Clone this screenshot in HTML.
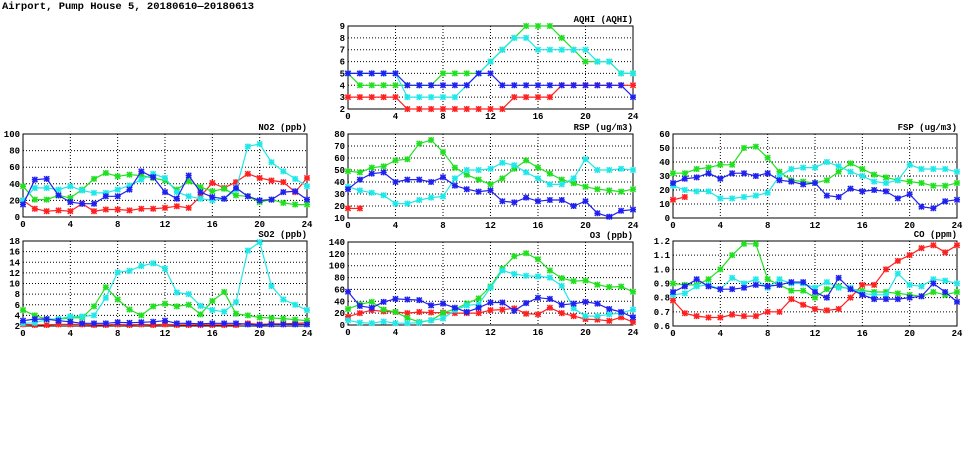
<!DOCTYPE html>
<html><head><meta charset="utf-8"><style>
body{margin:0;background:#fff;width:975px;height:447px;overflow:hidden}
svg text{font-family:"Liberation Mono",monospace;font-weight:bold;font-size:9px;fill:#000}
</style></head><body>
<svg id="c" width="975" height="447">
<text x="2" y="9" style="font-size:10.5px">Airport, Pump House 5, 20180610—20180613</text>
</svg>
<script>
const hours=[0,1,2,3,4,5,6,7,8,9,10,11,12,13,14,15,16,17,18,19,20,21,22,23,24];
const xTicks=[0,4,8,12,16,20,24];
const colors=["#ff2020","#20e020","#20e8e8","#2020f0"];
const aqhiRed=[3,3,3,3,3,2,2,2,2,2,2,2,2,2,3,3,3,3,4,4,4,4,4,4,4];
const aqhiGreen=[5,4,4,4,4,4,4,4,5,5,5,5,6,7,8,9,9,9,8,7,6,6,6,5,5];
const aqhiCyan=[5,5,5,5,5,3,3,3,3,3,4,5,6,7,8,8,7,7,7,7,7,6,6,5,5];
const aqhiBlue=[5,5,5,5,5,4,4,4,4,4,4,5,5,4,4,4,4,4,4,4,4,4,4,4,3];
const no2Red=[20,10,7,8,7,16,7,9,9,8,10,10,11,13,11,25,41,35,42,52,47,44,42,30,47];
const no2Green=[37,21,21,26,23,33,46,53,49,51,50,47,44,33,43,36,31,34,26,25,18,21,17,15,15];
const no2Cyan=[20,35,35,33,37,32,29,29,33,38,45,52,47,30,25,22,20,22,33,85,88,66,55,46,37];
const no2Blue=[15,45,46,26,18,16,16,25,25,33,55,48,30,22,50,30,24,22,35,25,20,21,30,31,21];
const rspRed=[18,18];
const rspGreen=[49,48,52,53,58,59,72,75,65,52,46,42,38,43,51,58,52,47,42,39,36,34,33,32,34];
const rspCyan=[36,33,31,29,22,22,25,27,28,43,50,50,51,56,54,48,43,38,38,43,59,50,50,51,50];
const rspBlue=[34,42,47,48,40,42,42,40,44,37,34,32,33,24,23,27,24,25,25,20,24,14,11,16,17];
const fspRed=[13,15];
const fspGreen=[32,32,35,36,38,38,50,51,43,33,27,26,25,27,33,39,35,31,29,27,26,25,23,23,25];
const fspCyan=[23,20,19,19,14,14,15,16,18,30,35,36,36,40,37,33,30,26,25,27,38,35,35,35,33];
const fspBlue=[25,28,29,32,28,32,32,30,32,27,26,24,25,16,15,21,19,20,19,14,17,8,7,12,13];
const so2Red=[2.3,2.2,2.2,2.3,2.3,2.3,2.2,2.2,2.3,2.2,2.3,2.2,2.3,2.2,2.2,2.2,2.2,2.2,2.2,2.5,2.3,2.4,2.4,2.5,2.6];
const so2Green=[5,4,3.3,3.3,3.5,3.6,5.7,9.3,7,5.1,4,5.7,6.2,5.7,6,4.2,6.7,8.4,4.3,4,3.6,3.5,3.4,3.2,3];
const so2Cyan=[2.5,2.6,3.2,3.3,3.8,3.8,4,7.3,12.1,12.4,13.3,13.8,12.8,8.3,8,5.8,5,4.7,6.5,16.2,17.8,9.5,7,6,5];
const so2Blue=[3,3.3,3.3,3,2.8,2.5,2.5,2.5,2.7,2.6,2.7,2.8,3,2.5,2.5,2.4,2.5,2.5,2.5,2.3,2.2,2.3,2.3,2.3,2.3];
const o3Red=[14,20,25,23,22,20,22,21,21,20,20,20,25,26,28,19,18,29,20,15,10,9,7,13,5];
const o3Green=[27,35,39,26,22,12,5,8,20,27,36,45,65,95,116,121,111,92,79,74,75,68,64,65,56];
const o3Cyan=[8,4,3,6,3,3,4,8,11,25,33,35,63,92,86,83,82,80,66,28,15,15,18,20,26];
const o3Blue=[56,32,29,39,44,43,42,33,36,29,22,29,38,38,24,37,46,44,34,36,39,36,27,22,13];
const coRed=[.78,.69,.67,.66,.66,.68,.67,.67,.7,.7,.79,.75,.72,.71,.72,.8,.89,.89,1.0,1.06,1.1,1.15,1.17,1.12,1.17];
const coGreen=[.9,.89,.89,.93,1.0,1.1,1.18,1.18,.93,.89,.85,.85,.8,.86,.88,.86,.85,.84,.84,.83,.82,.81,.84,.82,.84];
const coCyan=[.82,.83,.88,.89,.86,.94,.9,.93,.87,.93,.9,.9,.87,.91,.87,.87,.83,.82,.82,.97,.89,.88,.93,.92,.9];
const coBlue=[.84,.88,.93,.88,.86,.86,.87,.89,.88,.89,.91,.91,.84,.8,.94,.86,.82,.79,.79,.79,.8,.81,.9,.84,.77];
const aqhiTicks=[2,3,4,5,6,7,8,9];
const no2Ticks=[0,20,40,60,80,100];
const rspTicks=[10,20,30,40,50,60,70,80];
const fspTicks=[0,10,20,30,40,50,60];
const so2Ticks=[2,4,6,8,10,12,14,16,18];
const o3Ticks=[0,20,40,60,80,100,120,140];
const coTicks=["0.6","0.7","0.8","0.9","1.0","1.1","1.2"];

const NS="http://www.w3.org/2000/svg";
const svg=document.getElementById("c");
function mk(t,a,p){const e=document.createElementNS(NS,t);for(const k in a)e.setAttribute(k,a[k]);(p||svg).appendChild(e);return e;}
const panels=[
 {key:"aqhi",title:"AQHI (AQHI)",box:[348,26,633,109],ticks:aqhiTicks,series:[aqhiRed,aqhiGreen,aqhiCyan,aqhiBlue]},
 {key:"no2",title:"NO2 (ppb)",box:[23,134,307,217],ticks:no2Ticks,series:[no2Red,no2Green,no2Cyan,no2Blue]},
 {key:"rsp",title:"RSP (ug/m3)",box:[348,134,633,218],ticks:rspTicks,series:[rspRed,rspGreen,rspCyan,rspBlue]},
 {key:"fsp",title:"FSP (ug/m3)",box:[673,134,957,218],ticks:fspTicks,series:[fspRed,fspGreen,fspCyan,fspBlue]},
 {key:"so2",title:"SO2 (ppb)",box:[23,241,307,326],ticks:so2Ticks,series:[so2Red,so2Green,so2Cyan,so2Blue]},
 {key:"o3",title:"O3 (ppb)",box:[348,242,633,325],ticks:o3Ticks,series:[o3Red,o3Green,o3Cyan,o3Blue]},
 {key:"co",title:"CO (ppm)",box:[673,241,957,326],ticks:coTicks,series:[coRed,coGreen,coCyan,coBlue]}
];
const names=["red","green","cyan","blue"];
panels.forEach(p=>{
 const [l,t,r,b]=p.box;
 const g=mk("g",{});
 
 
 const tv=p.ticks.map(Number);
 const ymin=tv[0],ymax=tv[tv.length-1];
 const X=h=>l+(r-l)*h/24;
 const Y=v=>b-(b-t)*(v-ymin)/(ymax-ymin);
 tv.forEach((v,i)=>{
  if(i>0&&i<tv.length-1){const gl=mk("line",{x1:l,x2:r,y1:Y(v),y2:Y(v),stroke:"#000","stroke-width":1,"stroke-dasharray":"1,2"},g);}
  const tx=mk("text",{x:l-3,y:Y(v)+3,"text-anchor":"end"},g);tx.textContent=p.ticks[i];
  
  
 });
 xTicks.forEach(h=>{
  if(h>0&&h<24){const gl=mk("line",{x1:X(h),x2:X(h),y1:t,y2:b,stroke:"#000","stroke-width":1,"stroke-dasharray":"1,2"},g);}
  const tx=mk("text",{x:X(h),y:b+10,"text-anchor":"middle"},g);tx.textContent=h;
  
  
 });
 const fr=mk("rect",{x:l,y:t,width:r-l,height:b-t,fill:"none",stroke:"#000","stroke-width":1},g);
 
 
 const tt=mk("text",{x:r,y:t-4,"text-anchor":"end"},g);tt.textContent=p.title;
 
 
 p.series.forEach((s,si)=>{
  const c=colors[si];
  const pts=s.map((v,i)=>X(hours[i]).toFixed(1)+","+Y(v).toFixed(1)).join(" ");
  const pl=mk("polyline",{points:pts,fill:"none",stroke:c,"stroke-width":1.2},g);
  
  
  s.forEach((v,i)=>{
   const x=X(hours[i]),y=Y(v);
   const m=mk("path",{d:`M${x-2.6},${y-2.6}L${x+2.6},${y+2.6}M${x-2.6},${y+2.6}L${x+2.6},${y-2.6}M${x-3},${y}L${x+3},${y}M${x},${y-3}L${x},${y+3}`,stroke:c,"stroke-width":1.5},g);
   
   
  });
 });
});
</script>
</body></html>
